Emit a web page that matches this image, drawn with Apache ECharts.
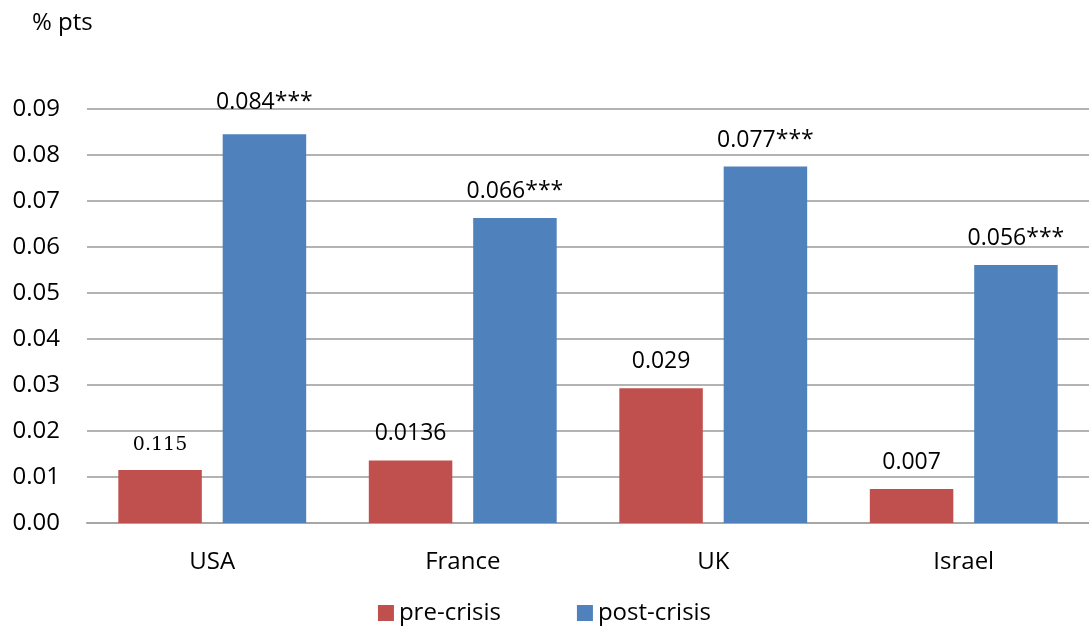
<!DOCTYPE html>
<html>
<head>
<meta charset="utf-8">
<script src="https://cdn.jsdelivr.net/npm/echarts@6/dist/echarts.min.js"></script>
<style>
  html, body { margin: 0; padding: 0; background: #fff; }
  #chart { width: 1089px; height: 630px; }
</style>
</head>
<body>
<div id="chart"></div>
<script>
const categories = ['USA', 'France', 'UK', 'Israel'];
const preCrisis = [0.0115, 0.0136, 0.0293, 0.0074];
const postCrisis = [0.0845, 0.0663, 0.0775, 0.0561];
const preLabels = ['0.115', '0.0136', '0.029', '0.007'];
const postLabels = ['0.084***', '0.066***', '0.077***', '0.056***'];

const chart = echarts.init(document.getElementById('chart'));
const font = '"Open Sans", "Noto Sans", sans-serif';

const options = {
  backgroundColor: '#fff',
  textStyle: { fontFamily: font },
  animation: false,
  grid: { left: 87, right: 0, top: 109, bottom: 107 },
  title: {
    text: '% pts',
    left: 27, top: 6,
    textStyle: { fontFamily: font, fontSize: 24, fontWeight: 'normal', color: '#000' }
  },
  legend: {
    bottom: 0,
    left: 'center',
    itemWidth: 16, itemHeight: 16, itemGap: 76,
    icon: 'rect',
    textStyle: { fontFamily: font, fontSize: 24, color: '#000' },
    data: ['pre-crisis', 'post-crisis']
  },
  xAxis: {
    type: 'category',
    data: categories,
    axisTick: { show: false },
    axisLine: { lineStyle: { color: '#a6a6a6', width: 2 } },
    axisLabel: { color: '#000', fontSize: 24, fontFamily: font, margin: 27 }
  },
  yAxis: {
    type: 'value',
    min: 0, max: 0.09, interval: 0.01,
    axisLine: { show: false },
    axisTick: { show: false },
    splitLine: { lineStyle: { color: '#b3b3b3', width: 2 } },
    axisLabel: {
      color: '#000', fontSize: 24, fontFamily: font, margin: 27,
      formatter: v => v.toFixed(2)
    }
  },
  series: [
    {
      name: 'pre-crisis',
      type: 'bar',
      barGap: '25%',
      barCategoryGap: '25%',
      itemStyle: { color: '#c0504d' },
      data: preCrisis.map((v, i) => ({
        value: v,
        label: i === 0
          ? { fontFamily: '"DejaVu Serif", serif', fontSize: 19, distance: 16 }
          : {}
      })),
      label: {
        show: true, position: 'top', distance: 15,
        color: '#000', fontSize: 23, fontFamily: font,
        formatter: p => preLabels[p.dataIndex]
      }
    },
    {
      name: 'post-crisis',
      type: 'bar',
      itemStyle: { color: '#4f81bd' },
      data: postCrisis.map((v, i) => ({
        value: v,
        label: i === 0 ? { distance: 20 } : {}
      })),
      label: {
        show: true, position: 'top', distance: 15,
        color: '#000', fontSize: 23, fontFamily: font,
        formatter: p => postLabels[p.dataIndex]
      }
    }
  ]
};

chart.setOption(options);
window.addEventListener('resize', () => chart.resize());
</script>
</body>
</html>
